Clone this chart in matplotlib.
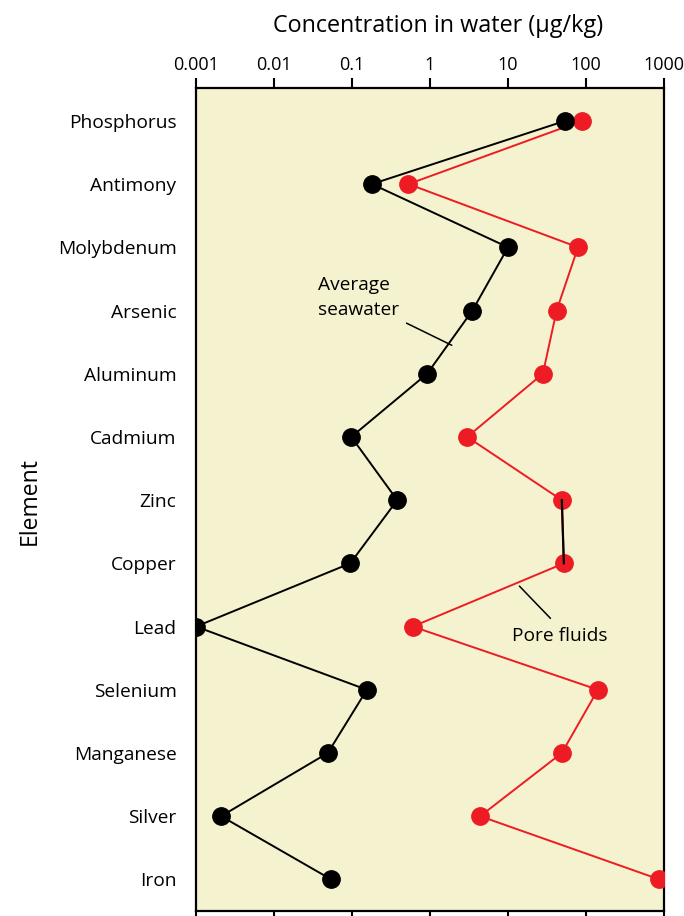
import matplotlib
matplotlib.use("Agg")
import matplotlib.pyplot as plt
import numpy as np

plt.rcParams['font.family'] = ['Open Sans', 'DejaVu Sans']

elements = ["Phosphorus", "Antimony", "Molybdenum", "Arsenic", "Aluminum", "Cadmium",
            "Zinc", "Copper", "Lead", "Selenium", "Manganese", "Silver", "Iron"]
seawater = [54, 0.18, 10, 3.5, 0.92, 0.098, 0.38, 0.095, 0.001, 0.155, 0.049, 0.0021, 0.054]
pore_fluids = [89, 0.53, 79, 42, 28, 3.0, 49, 52, 0.6, 142, 49, 4.4, 870]
xticks = [0.001, 0.01, 0.1, 1, 10, 100, 1000]
xtick_labels = ["0.001", "0.01", "0.1", "1", "10", "100", "1000"]

BG = "#F5F2CF"
RED = "#ED1C24"

fig = plt.figure(figsize=(6.84, 9.16), dpi=100)
ax = fig.add_axes([196/684, 1-911/916, (664-196)/684, (911-88)/916])
ax.set_facecolor(BG)

y = np.arange(len(elements))
ax.plot(pore_fluids, y, color=RED, lw=1.4, marker='o', ms=12.5, mec=RED, mfc=RED, zorder=3)
# black segment between Zinc and Copper pore-fluid points (as in the original)
ax.plot(pore_fluids[6:8], y[6:8], color='black', lw=1.6, zorder=4)
ax.plot(seawater, y, color='black', lw=1.4, marker='o', ms=12.5, mec='black', mfc='black', zorder=5)

ax.set_xscale('log')
ax.set_xlim(0.001, 1000)
ax.set_ylim(12.5, -0.52)
ax.set_xticks(xticks)
ax.set_xticklabels(xtick_labels)
ax.minorticks_off()
ax.xaxis.set_ticks_position('both')
ax.xaxis.set_label_position('top')
ax.tick_params(axis='x', which='major', direction='out', length=7, width=1.5,
               labeltop=True, labelbottom=False, labelsize=13, pad=3, top=True, bottom=True)
ax.set_yticks(y)
ax.set_yticklabels(elements)
ax.tick_params(axis='y', length=0, labelsize=13.8, pad=14)
for s in ax.spines.values():
    s.set_linewidth(1.6)

ax.set_xlabel("Concentration in water (\u03bcg/kg)", fontsize=16.8, labelpad=17)
ax.xaxis.label.set_x(0.518)
fig.text(30/684, 1-501/916, "Element", rotation=90, fontsize=16.5, ha='center', va='center')

ax.text(0.037, 2.80, "Average\nseawater", fontsize=13.8, ha='left', va='center', linespacing=1.5)
ax.annotate("", xy=(1.9, 3.55), xytext=(0.5, 3.2),
            arrowprops=dict(arrowstyle='-', color='black', lw=1.1, shrinkA=0, shrinkB=0))
ax.text(46.4, 8.15, "Pore fluids", fontsize=13.8, ha='center', va='center')
ax.annotate("", xy=(14.0, 7.36), xytext=(35.0, 7.87),
            arrowprops=dict(arrowstyle='-', color='black', lw=1.1, shrinkA=0, shrinkB=0))

fig.savefig("out.png", dpi=100)
